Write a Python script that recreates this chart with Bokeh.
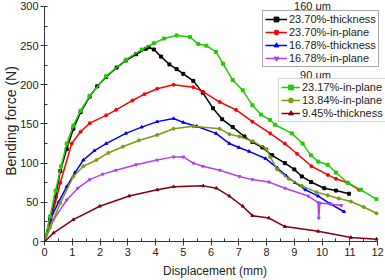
from bokeh.plotting import figure
from bokeh.models import Range1d, FixedTicker, Legend, LegendItem, Label
from bokeh.embed import file_html
from bokeh.resources import INLINE

FONT = "Liberation Sans"

# ---- data ----
blk_x = [0, 0.2, 0.4, 0.57, 0.8, 1.04, 1.3, 1.63, 1.9, 2.22, 2.6, 2.93, 3.3, 3.65, 3.75, 3.94, 4.2, 4.5, 4.76, 5.0, 5.36, 5.7, 6.07, 6.4, 6.78, 7.2, 7.49, 7.85, 8.2, 8.66, 9.0, 9.27, 9.6, 10.08, 10.5, 10.97]
blk_y = [0, 28, 57, 90, 118, 144, 165, 185, 198, 210, 222, 231, 239, 246, 248, 245, 236, 226, 220, 214, 205, 190, 170, 156, 146, 134, 127, 120, 110, 100, 92, 83, 76, 68, 65, 61]

red_x = [0, 0.21, 0.57, 0.98, 1.3, 1.63, 2.22, 2.58, 3.17, 3.6, 4.06, 4.65, 5.36, 5.72, 6.31, 6.9, 7.49, 8.13, 8.66, 9.1, 9.62, 10.21, 10.5, 10.92, 11.33]
red_y = [0, 24, 75, 125, 140, 151, 161, 168, 180, 188, 195, 200, 197, 191, 178, 168, 153, 138, 125, 112, 96, 85, 80, 75, 66]

blu_x = [0, 0.21, 0.5, 0.8, 1.1, 1.4, 1.8, 2.22, 2.93, 3.5, 4.06, 4.65, 5.0, 5.48, 6.18, 6.66, 7.0, 7.37, 7.96, 8.38, 8.7, 9.03, 9.4, 9.86, 10.3, 10.79]
blu_y = [0, 28, 50, 70, 88, 104, 116, 125, 138, 146, 153, 157, 152, 147, 138, 125, 120, 115, 106, 94, 84, 75, 66, 58, 48, 38]

pur_x = [0, 0.33, 0.8, 1.2, 1.63, 2.1, 2.58, 3.3, 4.06, 4.65, 5.0, 5.36, 5.7, 6.31, 7.02, 7.49, 8.08, 8.66, 9.5, 9.85, 9.88, 9.92, 10.3, 10.69]
pur_y = [0, 28, 53, 68, 79, 86, 91, 98, 104, 108, 108, 100, 96, 91, 83, 79, 76, 68, 58, 50, 30, 49, 48, 46]

grn_x = [0, 0.2, 0.4, 0.6, 0.8, 1.04, 1.3, 1.63, 2.22, 2.93, 3.5, 3.94, 4.3, 4.76, 5.24, 5.54, 5.83, 6.18, 6.43, 6.78, 7.14, 7.49, 7.8, 8.13, 8.31, 8.91, 9.3, 9.6, 9.86, 10.2, 10.5, 10.92, 11.4, 11.96]
grn_y = [0, 32, 65, 96, 125, 148, 167, 186, 211, 232, 245, 253, 259, 263, 261, 252, 250, 242, 227, 206, 193, 174, 162, 155, 149, 138, 125, 110, 102, 98, 88, 75, 66, 54]

olv_x = [0, 0.2, 0.57, 1.04, 1.4, 1.87, 2.3, 2.82, 3.4, 4.06, 4.65, 5.36, 6.31, 6.66, 7.02, 7.5, 8.0, 8.13, 8.38, 8.8, 9.27, 9.8, 10.2, 10.6, 11.04, 11.5, 11.96]
olv_y = [0, 18, 49, 83, 96, 104, 113, 121, 129, 136, 144, 147, 144, 137, 134, 128, 118, 108, 92, 80, 71, 63, 59, 55, 51, 44, 36]

drd_x = [0, 0.33, 1.04, 1.99, 3.05, 4.06, 4.65, 5.72, 6.19, 6.66, 7.14, 7.49, 8.08, 8.66, 9.86, 11.04, 11.96]
drd_y = [0, 11, 28, 45, 58, 66, 70, 71, 68, 58, 45, 33, 30, 19, 13, 5, 3]

x_ticks = list(range(0, 13))
y_ticks = [0, 50, 100, 150, 200, 250, 300]

series_160 = [
    ("23.70%-thickness", blk_x, blk_y, "#000000", "square"),
    ("23.70%-in-plane", red_x, red_y, "#ff0000", "circle"),
    ("16.78%-thickness", blu_x, blu_y, "#0000ff", "triangle"),
    ("16.78%-in-plane", pur_x, pur_y, "#b040f0", "inverted_triangle"),
]
series_90 = [
    ("23.17%-in-plane", grn_x, grn_y, "#22cc00", "square"),
    ("13.84%-in-plane", olv_x, olv_y, "#7d9a10", "circle"),
    ("9.45%-thickness", drd_x, drd_y, "#800010", "triangle"),
]

# frame spans whole right/top edge; axis lines limited with bounds
p = figure(width=385, height=280, output_backend="svg", toolbar_location=None,
           x_range=Range1d(0, 12.284), y_range=Range1d(0, 307.6),
           min_border_left=39, min_border_right=0, min_border_top=0, min_border_bottom=38)
p.outline_line_color = None
p.grid.grid_line_color = None
p.background_fill_color = "white"

def draw(series):
    items = []
    for name, xs, ys, col, mk in series:
        lr = p.line(xs, ys, line_color=col, line_width=1.5)
        sr = p.scatter(xs, ys, marker=mk, size=3, fill_color=col, line_color=col)
        items.append(LegendItem(label=name, renderers=[lr, sr]))
    return items

items_160 = draw(series_160)
items_90 = draw(series_90)

for ax in (p.xaxis[0], p.yaxis[0]):
    ax.major_tick_out = 4
    ax.major_tick_in = 0
    ax.minor_tick_in = 3
    ax.minor_tick_out = 0
    ax.axis_line_color = "#333333"
    ax.major_tick_line_color = "#333333"
    ax.minor_tick_line_color = "#333333"
    ax.major_label_text_font = FONT
    ax.major_label_text_font_size = "11px"
    ax.major_label_text_color = "#222222"
    ax.major_label_standoff = 2
    ax.axis_label_text_font = FONT
    ax.axis_label_text_font_style = "normal"
    ax.axis_label_text_color = "#222222"

p.xaxis.bounds = (0, 12)
p.yaxis.bounds = (0, 300)
p.xaxis.ticker = FixedTicker(ticks=x_ticks, minor_ticks=[i * 0.5 for i in range(25)])
p.yaxis.ticker = FixedTicker(ticks=y_ticks, minor_ticks=[i * 25 for i in range(13)])
p.xaxis.axis_label = "Displacement (mm)"
p.xaxis.axis_label_text_font_size = "12px"
p.xaxis.axis_label_standoff = 5
p.yaxis.axis_label = "Bending force (N)"
p.yaxis.axis_label_text_font_size = "14px"
p.yaxis.axis_label_standoff = -2

def make_legend(items, loc, border, gw):
    lg = Legend(items=items, location=loc, border_line_color=border, border_line_width=1,
                background_fill_color="white", background_fill_alpha=1.0,
                label_text_font=FONT, label_text_font_size="11px", label_text_color="#222222",
                glyph_width=gw, glyph_height=12, label_height=12, label_standoff=2,
                spacing=1, padding=2, margin=0)
    p.add_layout(lg, "center")
    return lg

make_legend(items_160, (218, 174), "#555555", 22)
make_legend(items_90, (234, 119), "#aaaaaa", 19)

p.add_layout(Label(x=268, y=236, x_units="screen", y_units="screen", text="160 μm",
                   text_align="center", text_baseline="middle", text_font=FONT,
                   text_font_size="11px", text_color="#222222"))
p.add_layout(Label(x=271, y=167, x_units="screen", y_units="screen", text="90 μm",
                   text_align="center", text_baseline="middle", text_font=FONT,
                   text_font_size="11px", text_color="#222222"))

open("out.html", "w").write(file_html(p, INLINE))
